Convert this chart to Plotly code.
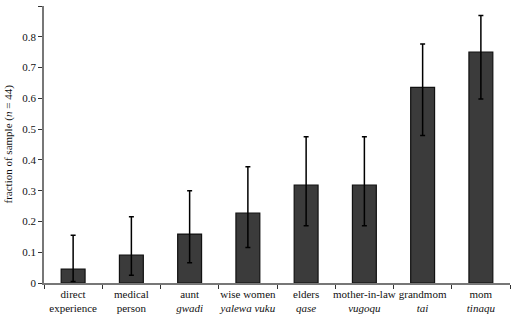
import plotly.graph_objects as go

categories = ["direct experience", "medical person", "aunt", "wise women", "elders",
              "mother-in-law", "grandmom", "mom"]
tick_labels = ["direct<br>experience", "medical<br>person", "aunt<br><i>gwadi</i>",
               "wise women<br><i>yalewa vuku</i>", "elders<br><i>qase</i>",
               "mother-in-law<br><i>vugoqu</i>", "grandmom<br><i>tai</i>", "mom<br><i>tinaqu</i>"]
y_ticks = [0, 0.1, 0.2, 0.3, 0.4, 0.5, 0.6, 0.7, 0.8, 0.9]
y_tick_labels = ["0", "0.1", "0.2", "0.3", "0.4", "0.5", "0.6", "0.7", "0.8", "0.9"]
values = [0.045, 0.091, 0.159, 0.227, 0.318, 0.318, 0.636, 0.75]
upper = [0.155, 0.215, 0.300, 0.378, 0.475, 0.475, 0.777, 0.869]
lower = [0.005, 0.025, 0.066, 0.115, 0.186, 0.186, 0.479, 0.598]

err_plus = [u - v for u, v in zip(upper, values)]
err_minus = [v - l for v, l in zip(values, lower)]

fig = go.Figure(go.Bar(
    x=categories, y=values, width=0.41,
    marker=dict(color="#3b3b3b", line=dict(color="#111111", width=1.2)),
    error_y=dict(type="data", symmetric=False, array=err_plus, arrayminus=err_minus,
                 color="black", thickness=1.5, width=2.5),
))

font = dict(family="Liberation Serif", size=11, color="#111111")
fig.update_layout(
    width=511, height=315,
    margin=dict(l=44, r=1, t=6, b=32),
    paper_bgcolor="white", plot_bgcolor="white",
    font=font, showlegend=False,
    xaxis=dict(tickvals=categories, ticktext=tick_labels, tickson="boundaries",
               tickangle=0, ticks="outside", ticklen=4, tickcolor="#333", showline=True,
               linecolor="#777", linewidth=1.5, showgrid=False, tickfont=font),
    yaxis=dict(range=[0, 0.9001], tickvals=y_ticks, ticktext=y_tick_labels,
               ticks="outside", ticklen=4,
               tickcolor="#333", showline=True, linecolor="#777", linewidth=1.5,
               showgrid=False, zeroline=False, tickfont=font),
    annotations=[dict(text="fraction of sample (<i>n</i> = 44)", textangle=-90,
                      xref="paper", yref="paper", x=0, y=0.5, xshift=-36,
                      xanchor="center", yanchor="middle", showarrow=False, font=font)],
)
fig.write_html("out.html", config={"displayModeBar": False},
               post_script="document.body.style.margin='0';")
